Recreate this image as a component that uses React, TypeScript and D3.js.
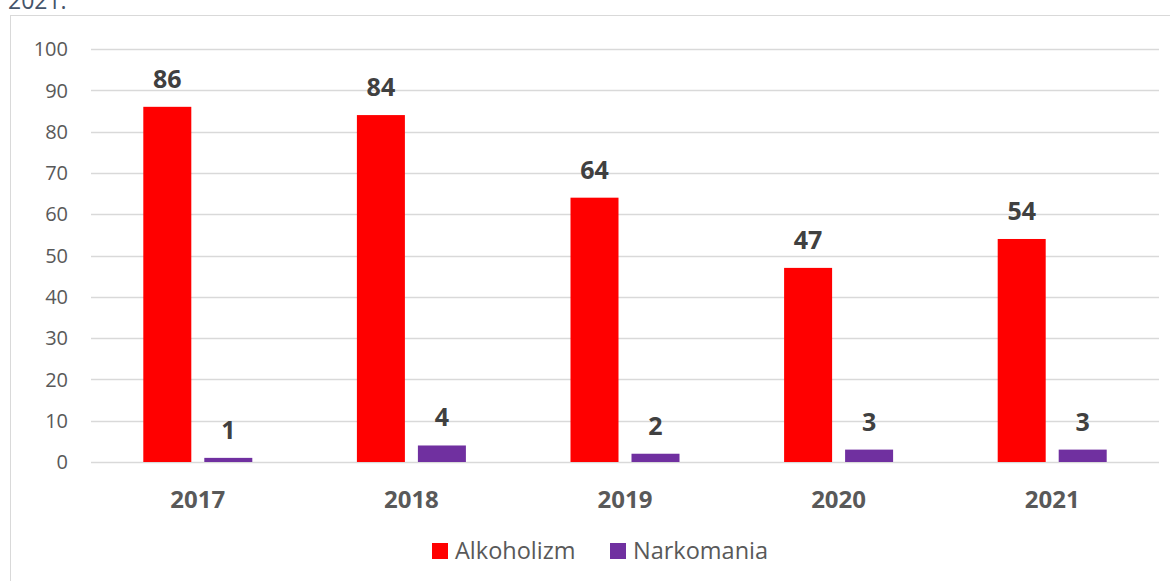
import * as d3 from 'd3';
import React, { useEffect, useRef } from 'react';

const years = ['2017', '2018', '2019', '2020', '2021'];
const alkoholizm = [86, 84, 64, 47, 54];
const narkomania = [1, 4, 2, 3, 3];
const yTicks = [0, 10, 20, 30, 40, 50, 60, 70, 80, 90, 100];
const seriesNames = ['Alkoholizm', 'Narkomania'];
const seriesColors = ['#FF0000', '#7030A0'];

const FONT = '"Open Sans", sans-serif';

export default function App() {
  const svgRef = useRef<SVGSVGElement>(null);

  useEffect(() => {
    if (!svgRef.current) return;
    const width = 1170;
    const height = 581;
    const svg = d3.select(svgRef.current);
    svg.selectAll('*').remove();
    svg.attr('width', width).attr('height', height);

    // Caption fragment cut at top of page
    svg.append('text')
      .attr('x', 8)
      .attr('y', 9)
      .attr('font-family', FONT)
      .attr('font-size', 23)
      .attr('fill', '#44546A')
      .text('2021.');

    // Chart frame
    svg.append('rect')
      .attr('x', 10.5)
      .attr('y', 15.5)
      .attr('width', 1170)
      .attr('height', 600)
      .attr('fill', 'white')
      .attr('stroke', '#D9D9D9')
      .attr('stroke-width', 1);

    const margin = { left: 91, right: 11, top: 49, bottom: 119 };
    const innerW = width - margin.left - margin.right;
    const innerH = height - margin.top - margin.bottom;

    const g = svg.append('g').attr('transform', `translate(${margin.left},${margin.top})`);

    const x0 = d3.scaleBand().domain(years).range([0, innerW]).paddingInner(0).paddingOuter(0);
    const y = d3.scaleLinear().domain([0, 100]).range([innerH, 0]);

    const barW = 48;
    const gap = 13;
    const x1 = d3.scaleOrdinal<string, number>()
      .domain(seriesNames)
      .range([-(barW + gap / 2), gap / 2]);

    // Grid lines
    g.append('g')
      .selectAll('line')
      .data(yTicks)
      .join('line')
      .attr('x1', 0)
      .attr('x2', innerW)
      .attr('y1', d => Math.round(y(d)) + 0.5)
      .attr('y2', d => Math.round(y(d)) + 0.5)
      .attr('stroke', '#D9D9D9')
      .attr('stroke-width', 1.4);

    // Y tick labels
    g.append('g')
      .selectAll('text')
      .data(yTicks)
      .join('text')
      .attr('x', -23)
      .attr('y', d => y(d))
      .attr('dy', '0.36em')
      .attr('text-anchor', 'end')
      .attr('font-family', FONT)
      .attr('font-size', 20)
      .attr('fill', '#595959')
      .text(d => d);

    const series = [alkoholizm, narkomania];

    series.forEach((vals, si) => {
      const name = seriesNames[si];
      const grp = g.append('g');
      grp.selectAll('rect')
        .data(vals)
        .join('rect')
        .attr('x', (_, i) => (x0(years[i]) || 0) + x0.bandwidth() / 2 + x1(name))
        .attr('y', d => y(d))
        .attr('width', barW)
        .attr('height', d => innerH - y(d))
        .attr('fill', seriesColors[si]);

      grp.selectAll('text')
        .data(vals)
        .join('text')
        .attr('x', (_, i) => (x0(years[i]) || 0) + x0.bandwidth() / 2 + x1(name) + barW / 2)
        .attr('y', d => y(d) - 19)
        .attr('text-anchor', 'middle')
        .attr('font-family', FONT)
        .attr('font-size', 25)
        .attr('font-weight', 'bold')
        .attr('fill', '#404040')
        .text(d => d);
    });

    // Category labels
    g.append('g')
      .selectAll('text')
      .data(years)
      .join('text')
      .attr('x', d => (x0(d) || 0) + x0.bandwidth() / 2)
      .attr('y', innerH + 46)
      .attr('text-anchor', 'middle')
      .attr('font-family', FONT)
      .attr('font-size', 24)
      .attr('font-weight', 'bold')
      .attr('fill', '#595959')
      .text(d => d);

    // Legend
    const legendX = [432, 610];
    const legend = svg.append('g');
    seriesNames.forEach((name, i) => {
      legend.append('rect')
        .attr('x', legendX[i])
        .attr('y', 543)
        .attr('width', 16)
        .attr('height', 16)
        .attr('fill', seriesColors[i]);
      legend.append('text')
        .attr('x', legendX[i] + 23)
        .attr('y', 559)
        .attr('font-family', FONT)
        .attr('font-size', 23.5)
        .attr('fill', '#595959')
        .text(name);
    });
  }, []);

  return (
    <div>
      <svg ref={svgRef} style={{ position: 'absolute', left: 0, top: 0, display: 'block' }} />
    </div>
  );
}
